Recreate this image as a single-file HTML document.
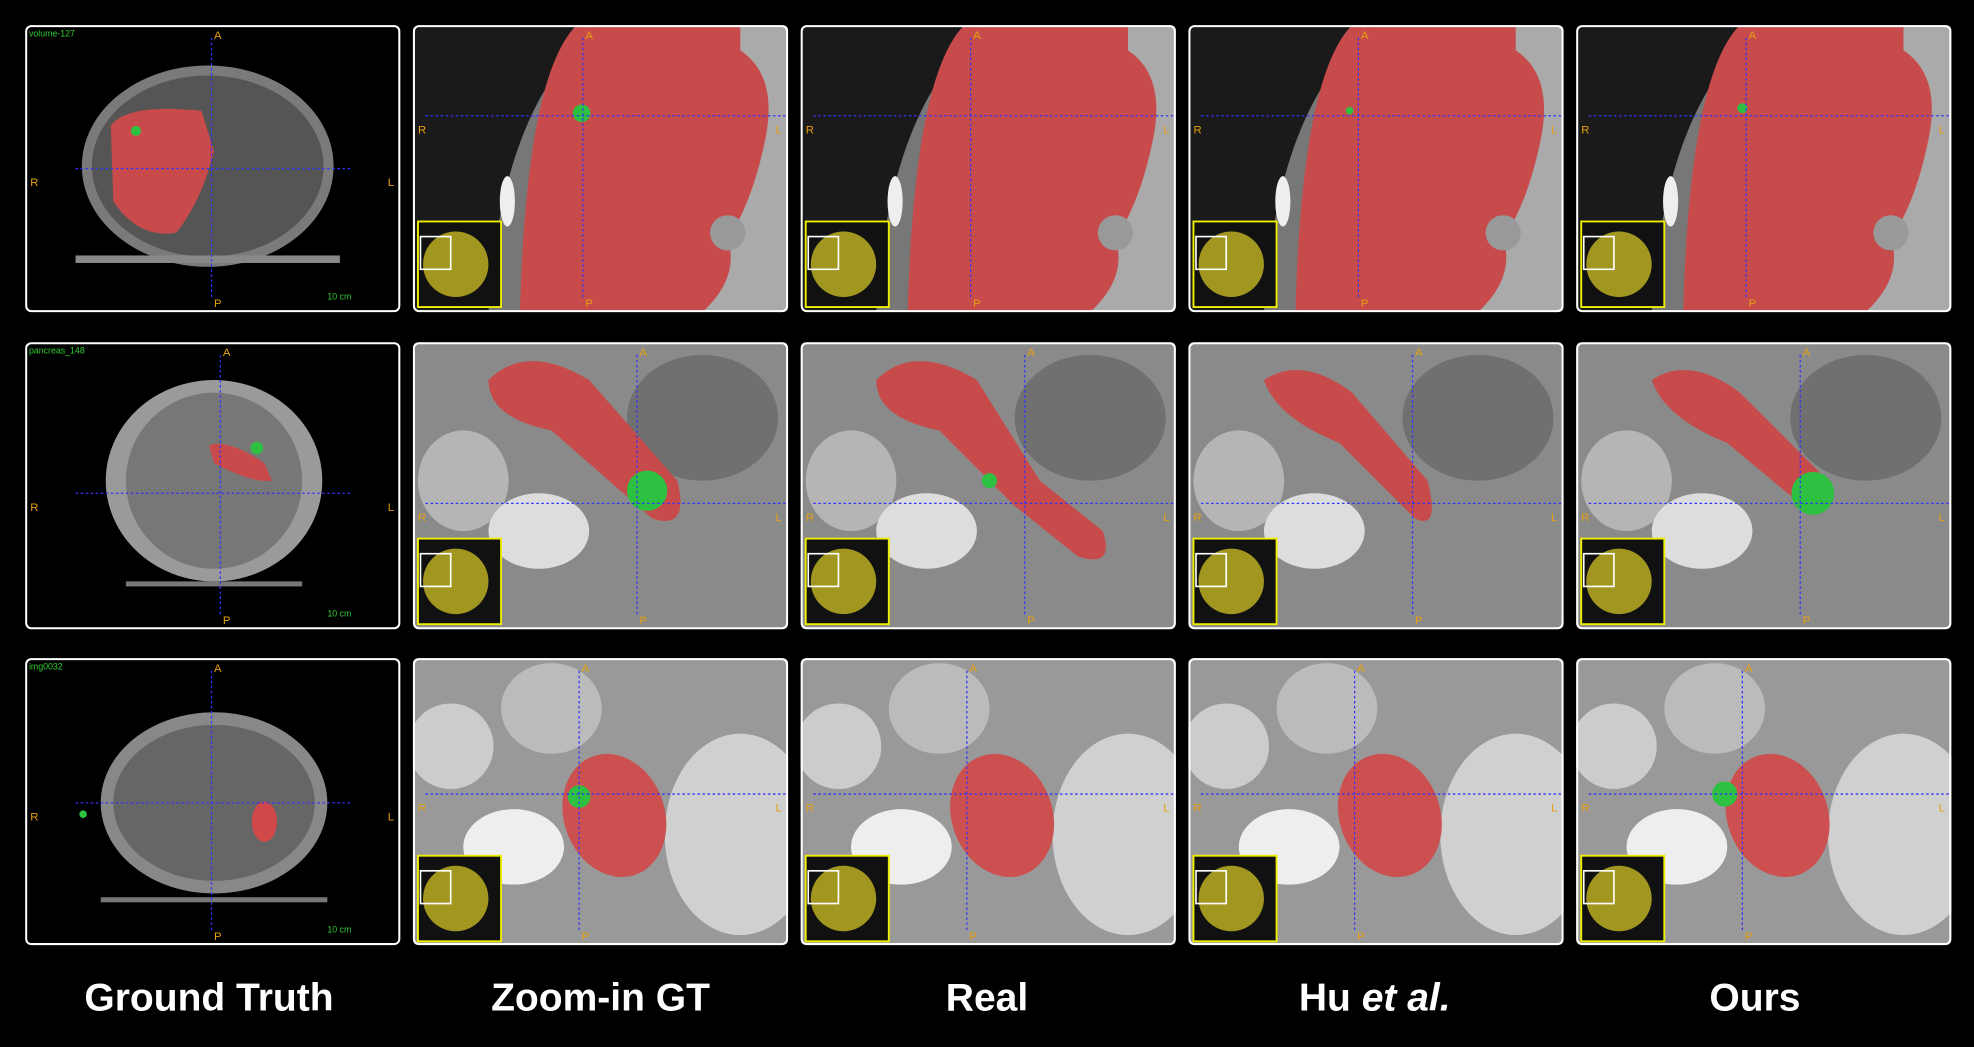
<!DOCTYPE html>
<html><head><meta charset="utf-8">
<style>
html,body{margin:0;padding:0;background:#000;}
svg{display:block;}
text{font-family:"Liberation Sans",sans-serif;}
</style></head>
<body>
<svg id="fig" width="1974" height="1047" viewBox="0 0 1568 832" preserveAspectRatio="none" xmlns="http://www.w3.org/2000/svg">
<rect width="1568" height="832" fill="#000"/>
<g id="panels"></g>
<g font-weight="bold" font-size="31" fill="#fff" text-anchor="middle">
<text x="166" y="803">Ground Truth</text>
<text x="477" y="803">Zoom-in GT</text>
<text x="784" y="803">Real</text>
<text x="1092" y="803">Hu <tspan font-style="italic">et al.</tspan></text>
<text x="1394" y="803">Ours</text>
</g>
</svg>
<script>
const NS='http://www.w3.org/2000/svg';
const colX=[20,328,636,944,1252];
const rowY=[20,272,523];
const W=298,H=228;
const g=document.getElementById('panels');
function el(tag,attrs,parent){const e=document.createElementNS(NS,tag);for(const k in attrs)e.setAttribute(k,attrs[k]);parent.appendChild(e);return e;}
// green lesion variants per row/column [dx,dy,r]
const lesions=[
 [[88,84,4],[134,70,7],null,[128,68,3],[132,66,4]],
 [[184,84,5],[186,118,16],[150,110,6],null,[188,120,17]],
 [[46,124,3],[132,110,9],null,null,[118,108,10]]
];
for(let r=0;r<3;r++){for(let c=0;c<5;c++){
 const x=colX[c],y=rowY[r];
 const p=el('g',{transform:`translate(${x},${y})`},g);
 
 
 const cid=`clip${r}${c}`;
 const cp=el('clipPath',{id:cid},p);el('rect',{width:W,height:H,rx:4},cp);
 const inner=el('g',{'clip-path':`url(#${cid})`},p);
 el('rect',{width:W,height:H,fill:'#000'},inner);
 if(c===0){
  if(r===0){el('ellipse',{cx:145,cy:112,rx:100,ry:80,fill:'#7a7a7a'},inner);
   el('ellipse',{cx:145,cy:112,rx:92,ry:72,fill:'#555'},inner);
   el('path',{d:'M68,80 Q80,62 140,68 L150,100 Q140,140 120,165 Q90,170 70,140 Z',fill:'#c84a4a'},inner);
   el('rect',{x:40,y:183,width:210,height:6,fill:'#888'},inner);}
  else if(r===1){el('ellipse',{cx:150,cy:110,rx:86,ry:80,fill:'#9a9a9a'},inner);
   el('circle',{cx:150,cy:110,r:70,fill:'#777'},inner);
   el('path',{d:'M146,82 Q160,76 190,96 L196,110 Q180,112 150,96 Z',fill:'#c84a4a'},inner);
   el('rect',{x:80,y:190,width:140,height:4,fill:'#777'},inner);}
  else {el('ellipse',{cx:150,cy:115,rx:90,ry:72,fill:'#888'},inner);
   el('ellipse',{cx:150,cy:115,rx:80,ry:62,fill:'#666'},inner);
   el('ellipse',{cx:190,cy:130,rx:10,ry:16,fill:'#d04848'},inner);
   el('rect',{x:60,y:190,width:180,height:4,fill:'#777'},inner);}
  el('text',{x:3,y:9,'font-size':7,fill:'#3c3'},inner).textContent=['volume-127','pancreas_148','img0032'][r];
  el('text',{x:240,y:218,'font-size':7,fill:'#3c3'},inner).textContent='10 cm';
 } else {
  if(r===0){
   el('rect',{width:W,height:H,fill:'#1a1a1a'},inner);
   el('path',{d:'M60,228 Q70,60 150,0 L298,0 L298,228 Z',fill:'#777'},inner);
   el('path',{d:'M90,228 Q95,60 170,0 L298,0 L298,228 Z',fill:'#aaa'},inner);
   el('path',{d:'M85,228 Q90,40 130,0 L260,0 L260,20 Q290,40 280,90 Q270,140 250,170 Q260,200 230,228 Z',fill:'#c84b4b'},inner);
   el('circle',{cx:250,cy:165,r:14,fill:'#999'},inner);
   el('ellipse',{cx:75,cy:140,rx:6,ry:20,fill:'#eee'},inner);
  } else if(r===1){
   el('rect',{width:W,height:H,fill:'#8a8a8a'},inner);
   el('ellipse',{cx:40,cy:110,rx:36,ry:40,fill:'#b5b5b5'},inner);
   el('ellipse',{cx:100,cy:150,rx:40,ry:30,fill:'#ddd'},inner);
   el('ellipse',{cx:230,cy:60,rx:60,ry:50,fill:'#707070'},inner);
   const d=[ 'M60,30 Q90,0 140,30 L210,110 Q220,150 190,140 L110,70 Q60,60 60,30 Z',
    'M60,30 Q90,0 140,30 L190,110 L240,150 Q250,180 220,170 L170,130 L110,70 Q60,60 60,30 Z',
    'M60,30 Q90,10 130,40 L190,110 Q200,150 180,140 L120,80 Q70,60 60,30 Z',
    'M60,30 Q90,10 130,40 L200,110 Q200,140 180,130 L120,80 Q70,60 60,30 Z'][c-1];
   el('path',{d,fill:'#c84b4b'},inner);
  } else {
   el('rect',{width:W,height:H,fill:'#999'},inner);
   el('circle',{cx:30,cy:70,r:34,fill:'#ccc'},inner);
   el('ellipse',{cx:110,cy:40,rx:40,ry:36,fill:'#bbb'},inner);
   el('ellipse',{cx:260,cy:140,rx:60,ry:80,fill:'#d0d0d0'},inner);
   el('ellipse',{cx:80,cy:150,rx:40,ry:30,fill:'#eee'},inner);
   el('ellipse',{cx:160,cy:125,rx:40,ry:50,transform:'rotate(-20 160 125)',fill:'#cc5050'},inner);
  }
  // inset
  const iy=[156,156,157][r];
  el('rect',{x:4,y:iy,width:66,height:68,fill:'#111',stroke:'#ee0',"stroke-width":1.5},inner);
  el('circle',{cx:34,cy:iy+34,r:26,fill:'#a09620'},inner);
  el('rect',{x:6,y:iy+12,width:24,height:26,fill:'none',stroke:'#fff','stroke-width':1.3},inner);
 }
 const les=lesions[r][c];
 if(les){el('circle',{cx:les[0],cy:les[1],r:les[2],fill:'#2ec040'},inner);}
 // crosshairs
 const cx=c===0?[148,155,148][r]:[135,178,132][r];
 const cy=c===0?[114,120,115][r]:[72,128,108][r];
 el('line',{x1:c===0?40:10,y1:cy,x2:c===0?260:W,y2:cy,stroke:'#33f','stroke-dasharray':'2,2','stroke-width':1},inner);
 el('line',{x1:cx,y1:10,x2:cx,y2:H-10,stroke:'#33f','stroke-dasharray':'2,2','stroke-width':1},inner);
 const o={fill:'#e6a010','font-size':9};
 el('text',Object.assign({x:cx+2,y:11},o),inner).textContent='A';
 el('text',Object.assign({x:cx+2,y:H-4},o),inner).textContent='P';
 el('text',Object.assign({x:4,y:cy+14},o),inner).textContent='R';
 el('text',Object.assign({x:W-10,y:cy+14},o),inner).textContent='L';
 const b=el('rect',{x:0.8,y:0.8,width:W-1.6,height:H-1.6,rx:4,fill:'none',stroke:'#fff','stroke-width':1.6},p);
}}
</script>
</body></html>
